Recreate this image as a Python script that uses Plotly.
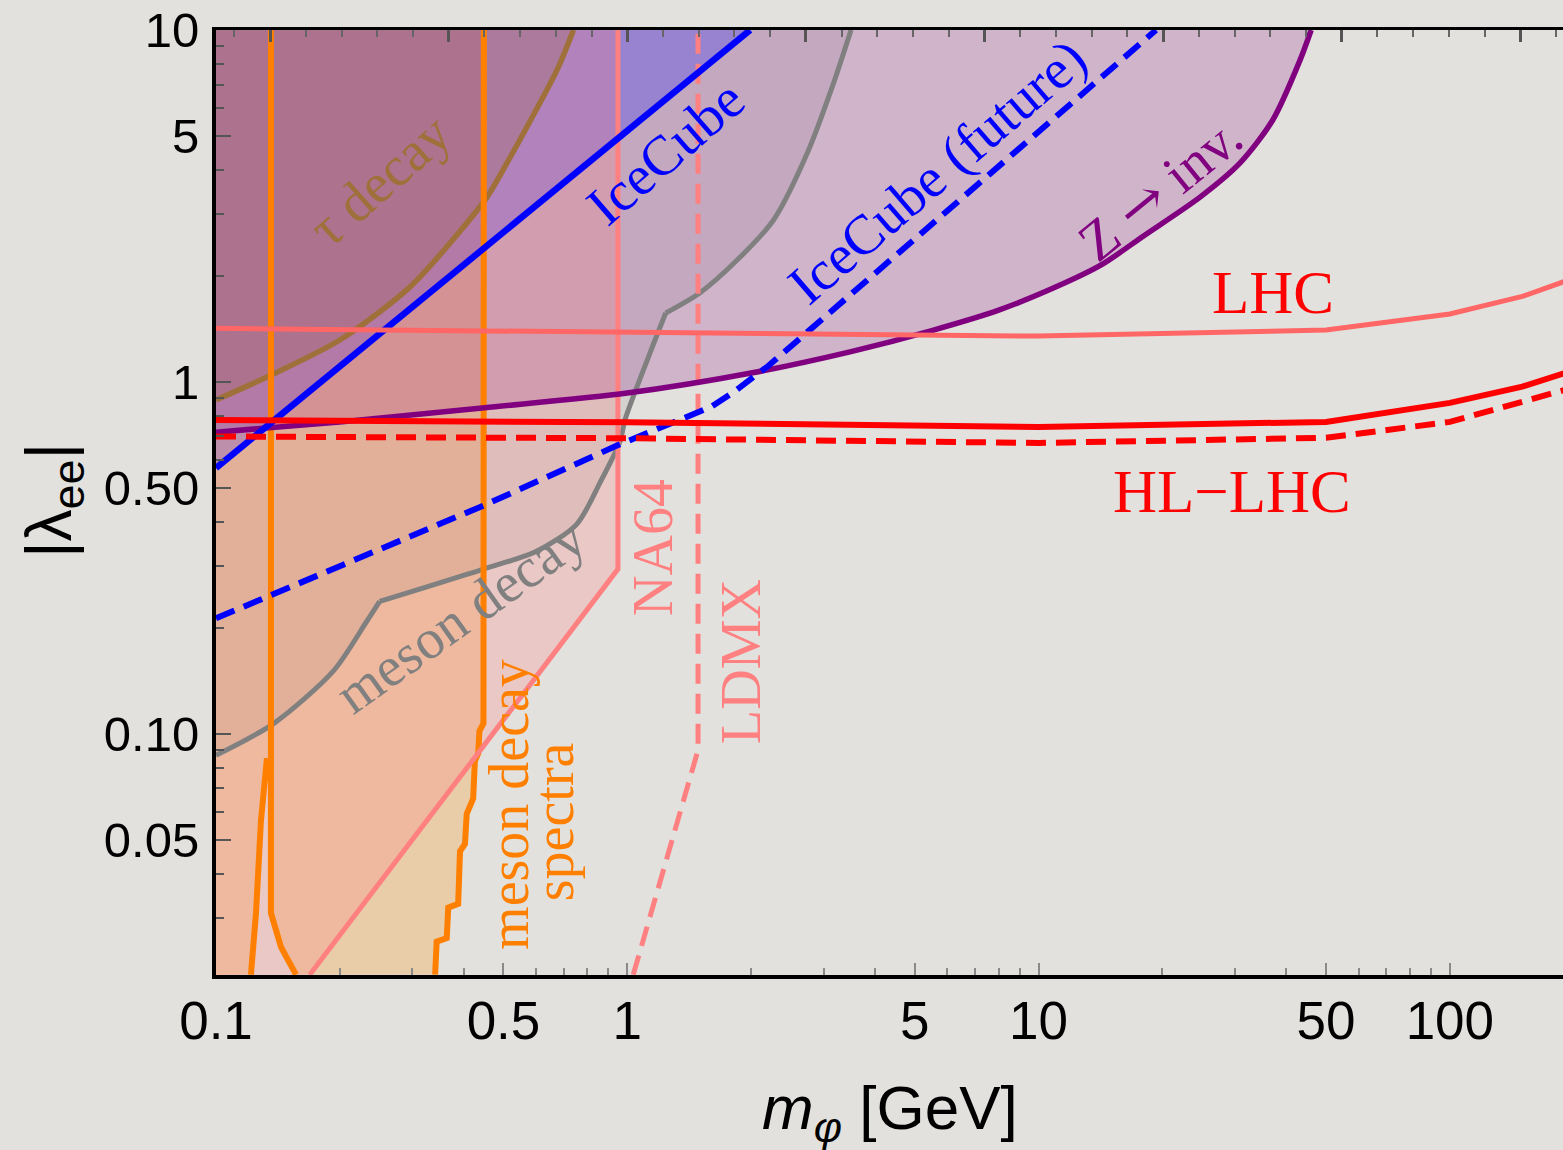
import numpy as np
import plotly.graph_objects as go

# ---------------- axis ranges ----------------
X_MIN, X_MAX = 0.1, 188.4
Y_MIN, Y_MAX = 0.02066, 10.0

# ---------------- data ----------------
# Z -> invisible (purple)
z_m   = [0.1, 0.2, 0.45, 1.0, 2.0, 3.5, 5.5, 8.0, 11.0, 14.2, 18.0, 24.7, 30.9, 37.1, 43.2, 46.0]
z_lam = [0.72, 0.77, 0.845, 0.93, 1.06, 1.22, 1.40, 1.60, 1.86, 2.15, 2.60, 3.35, 4.19, 5.55, 8.2, 10.0]

# tau decay (brown)
tau_m   = [0.1, 0.133, 0.2, 0.296, 0.392, 0.456, 0.51, 0.57, 0.675, 0.74]
tau_lam = [0.889, 1.033, 1.316, 1.86, 2.68, 3.35, 4.19, 5.3, 7.7, 10.0]

# meson decay (gray)
mes_m   = [0.1, 0.138, 0.193, 0.232, 0.250, 0.447, 0.60, 0.753, 0.858, 0.96, 0.987, 1.136, 1.24, 1.50, 1.85, 2.27, 2.74, 3.15, 3.50]
mes_lam = [0.087, 0.107, 0.151, 0.208, 0.238, 0.294, 0.33, 0.394, 0.517, 0.678, 0.78, 1.21, 1.57, 1.79, 2.22, 2.89, 4.47, 6.89, 10.0]
mes_kinks = [4, 12]   # indices of the sharp corners of the gray curve

# IceCube (solid blue) and IceCube future (dashed blue)
ice_m   = [0.1, 1.99]
ice_lam = [0.57, 10.0]
icef_m   = [0.1, 0.45, 0.95, 1.6, 1.8, 2.2, 19.3]
icef_lam = [0.213, 0.447, 0.662, 0.85, 0.93, 1.11, 10.0]

# NA64 and LDMX
na64_m   = [0.169, 0.949, 0.949]
na64_lam = [0.0207, 0.294, 10.0]
ldmx_m   = [1.034, 1.486, 1.486]
ldmx_lam = [0.0207, 0.090, 10.0]

# meson decay spectra (orange): pion spike and jagged right edge
spk_m   = [0.1216, 0.1251, 0.1286, 0.1328, 0.136, 0.136, 0.1439, 0.1565]
spk_lam = [0.0207, 0.031, 0.0566, 0.0838, 0.0838, 0.031, 0.0248, 0.0207]
spl_m   = [0.136, 0.136]
spl_lam = [0.0838, 10.0]
spr_m   = [0.341, 0.344, 0.364, 0.367, 0.388, 0.392, 0.403, 0.407, 0.422, 0.426, 0.434, 0.437, 0.447, 0.447, 0.448]
spr_lam = [0.0207, 0.0257, 0.0263, 0.0321, 0.0329, 0.0464, 0.0487, 0.0593, 0.0655, 0.0837, 0.0879, 0.1019, 0.1071, 0.1403, 10.0]

# LHC / HL-LHC
lhc_m     = [0.1, 1, 10, 50, 100, 150, 190]
lhc_lam   = [1.42, 1.39, 1.35, 1.405, 1.56, 1.75, 1.93]
hl_m      = [0.1, 1, 10, 50, 100, 150, 190]
hl_lam    = [0.78, 0.768, 0.745, 0.77, 0.872, 0.97, 1.06]
hld_m     = [0.1, 1, 10, 50, 100, 150, 190]
hld_lam   = [0.70, 0.692, 0.671, 0.694, 0.77, 0.879, 0.949]

# tick labels
x_tickvals = [0.1, 0.5, 1, 5, 10, 50, 100]
x_ticktext = ["0.1", "0.5", "1", "5", "10", "50", "100"]
y_tickvals = [0.05, 0.1, 0.5, 1, 5, 10]
y_ticktext = ["0.05", "0.10", "0.50", "1", "5", "10"]

# text labels
ARROW = '<span style="font-family:DejaVu Serif">→</span>'
lab_text  = ["τ decay", "IceCube", "IceCube (future)", "Z " + ARROW + " inv.", "LHC", "HL−LHC",
             "meson decay", "NA64", "LDMX", "meson decay", "spectra"]
lab_m     = [0.2504, 1.24, 5.69, 19.7, 37.2, 29.5, 0.392, 1.155, 1.896, 0.516, 0.664]
lab_lam   = [3.75, 4.5, 3.95, 3.55, 1.80, 0.487, 0.2164, 0.3376, 0.1607, 0.0629, 0.0562]
lab_angle = [-41.5, -41, -40.7, -39, 0, 0, -35.5, -90, -90, -90, -90]
lab_size  = [56, 56, 56, 56, 61, 61, 56, 56, 56, 56, 56]
lab_color = ["#a0703a", "#0000ff", "#0000ff", "#800080", "#ff0000", "#ff0000",
             "#808080", "#ff8080", "#ff8080", "#ff8000", "#ff8000"]

BG = "#e3e1dd"

fig = go.Figure()

def region(xs, ys, color):
    fig.add_trace(go.Scatter(x=xs, y=ys, mode="lines", fill="toself", fillcolor=color,
                             line=dict(width=0), hoverinfo="skip", showlegend=False))

def curve(xs, ys, color, width, dash="solid", shape="linear"):
    fig.add_trace(go.Scatter(x=xs, y=ys, mode="lines",
                             line=dict(color=color, width=width, dash=dash, shape=shape,
                                       smoothing=0.8),
                             hoverinfo="skip", showlegend=False))

# ---- filled regions ----
region([X_MIN] + spk_m + spr_m + [X_MIN], [Y_MIN] + spk_lam + spr_lam + [Y_MAX], "rgba(255,140,0,0.24)")
region(mes_m + [X_MIN], mes_lam + [Y_MAX], "rgba(128,128,128,0.15)")
region(z_m + [X_MIN], z_lam + [Y_MAX], "rgba(128,0,128,0.2)")
region(ice_m + [X_MIN], ice_lam + [Y_MAX], "rgba(20,20,255,0.25)")
region([X_MIN] + na64_m + [X_MIN], [Y_MIN] + na64_lam + [Y_MAX], "rgba(255,128,128,0.25)")
region(tau_m + [X_MIN], tau_lam + [Y_MAX], "rgba(150,90,40,0.2)")

# ---- boundary curves ----
bounds = [0] + mes_kinks + [len(mes_m) - 1]
for a, b in zip(bounds[:-1], bounds[1:]):
    curve(mes_m[a:b + 1], mes_lam[a:b + 1], "#808080", 5, shape="spline")
curve(tau_m, tau_lam, "#a0703a", 5.5, shape="spline")
curve(spk_m, spk_lam, "#ff8000", 6)
curve(spl_m, spl_lam, "#ff8000", 6)
curve(spr_m, spr_lam, "#ff8000", 6)
curve(na64_m, na64_lam, "#ff8080", 5)
curve(ldmx_m, ldmx_lam, "#ff8080", 5, "20px,10px")
curve(z_m, z_lam, "#800080", 5.5, shape="spline")
curve(ice_m, ice_lam, "#0000ff", 6.5)
curve(icef_m, icef_lam, "#0000ff", 6, "20px,10px")
curve(lhc_m, lhc_lam, "#ff6666", 5)
curve(hl_m, hl_lam, "#ff0000", 6)
curve(hld_m, hld_lam, "#ff0000", 6, "20px,10px")

# dummy trace for the top axis
fig.add_trace(go.Scatter(x=[1], y=[1], xaxis="x2", mode="markers", marker=dict(opacity=0),
                         hoverinfo="skip", showlegend=False))

for t, m, l, a, s, c in zip(lab_text, lab_m, lab_lam, lab_angle, lab_size, lab_color):
    fig.add_annotation(x=np.log10(m), y=np.log10(l), xref="x", yref="y", text=t,
                       textangle=a, showarrow=False, xanchor="center", yanchor="middle",
                       font=dict(family="Liberation Serif", size=s, color=c))

# axis titles
fig.add_annotation(x=0.5, y=-0.145, xref="paper", yref="paper", showarrow=False,
                   text="<i>m</i><sub><i>φ</i></sub> [GeV]", xanchor="center", yanchor="middle",
                   font=dict(family="Liberation Sans", size=62, color="black"))
fig.add_annotation(x=-0.121, y=0.5016, xref="paper", yref="paper", showarrow=False,
                   text="|λ<sub>ee</sub>|", textangle=-90, xanchor="center", yanchor="middle",
                   font=dict(family="Liberation Sans", size=64, color="black"))

x_minor = [v * d for d in (0.1, 1, 10, 100) for v in (2, 3, 4, 6, 7, 8, 9)]
x_minor = [v for v in x_minor if X_MIN < v < X_MAX]
y_minor = [v * d for d in (0.01, 0.1, 1) for v in (2, 3, 4, 6, 7, 8, 9)]
y_minor = [v for v in y_minor if Y_MIN < v < Y_MAX]

top_minor = list(np.exp(np.arange(-11, 27) / 5.0))
top_major = list(np.exp(np.arange(-2, 6)))

fig.update_layout(
    width=1563, height=1150, autosize=False,
    margin=dict(l=216, r=0, t=30, b=175),
    paper_bgcolor=BG, plot_bgcolor=BG,
    showlegend=False,
    xaxis=dict(type="log", range=[np.log10(X_MIN), np.log10(X_MAX)],
               tickmode="array", tickvals=x_tickvals, ticktext=x_ticktext,
               ticks="inside", ticklen=12, tickwidth=2, tickcolor="#8a8a8a",
               minor=dict(tickmode="array", tickvals=x_minor, ticks="inside", ticklen=7,
                          tickwidth=1.5, tickcolor="#8a8a8a"),
               showline=True, linecolor="black", linewidth=4, mirror=False,
               showgrid=False, zeroline=False, ticklabelstandoff=-4,
               tickfont=dict(family="Liberation Sans", size=53, color="black")),
    xaxis2=dict(type="log", range=[np.log10(X_MIN), np.log10(X_MAX)], overlaying="x",
                anchor="y", side="top", tickmode="array", tickvals=top_major,
                showticklabels=False, ticks="inside", ticklen=12, tickwidth=2.5, tickcolor="#555",
                minor=dict(tickmode="array", tickvals=top_minor, ticks="inside", ticklen=7,
                           tickwidth=2, tickcolor="#666"),
                showline=True, linecolor="black", linewidth=3, showgrid=False, zeroline=False),
    yaxis=dict(type="log", range=[np.log10(Y_MIN), np.log10(Y_MAX)],
               tickmode="array", tickvals=y_tickvals, ticktext=y_ticktext,
               ticks="inside", ticklen=15, tickwidth=2, tickcolor="#555",
               minor=dict(tickmode="array", tickvals=y_minor, ticks="inside", ticklen=8,
                          tickwidth=1.5, tickcolor="#555"),
               showline=True, linecolor="black", linewidth=4, mirror=False,
               showgrid=False, zeroline=False, ticklabelstandoff=3,
               tickfont=dict(family="Liberation Sans", size=49, color="black")),
)

fig.write_html("out.html")
